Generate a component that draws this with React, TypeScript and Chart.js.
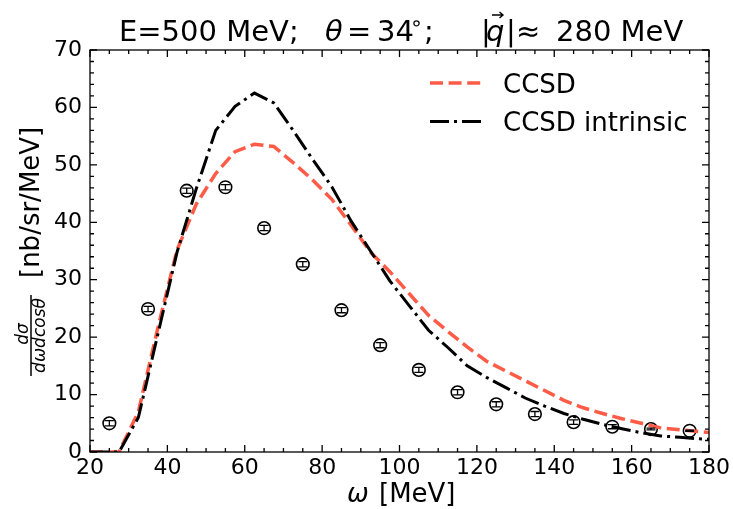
import React, { useEffect, useRef } from "react";
import { Chart, registerables } from "chart.js";

Chart.register(...registerables);

// ---- data ----
const dataOmega = [25, 35, 45, 55, 65, 75, 85, 95, 105, 115, 125, 135, 145, 155, 165, 175];
const dataValues = [5.0, 24.9, 45.5, 46.1, 39.0, 32.7, 24.7, 18.6, 14.3, 10.4, 8.3, 6.6, 5.2, 4.4, 4.0, 3.7];
const dataErrors = [0.45, 0.45, 0.45, 0.45, 0.45, 0.45, 0.45, 0.45, 0.45, 0.45, 0.45, 0.45, 0.4, 0.35, 0.15, 0.1];

const curveOmega = [
  20, 22.5, 27.5, 32.5, 37.5, 42.5, 47.5, 52.5, 57.5, 62.5, 67.5, 72.5, 77.5, 82.5, 87.5, 92.5, 97.5,
  102.5, 107.5, 112.5, 117.5, 122.5, 127.5, 132.5, 137.5, 142.5, 147.5, 152.5, 157.5, 162.5, 167.5,
  172.5, 177.5, 180,
];
const ccsdValues = [
  0, 0, 0, 7.0, 21.5, 35.2, 43.2, 48.5, 52.3, 53.6, 53.2, 50.4, 47.4, 44.0, 39.5, 34.8, 31.4,
  27.6, 23.8, 21.0, 18.3, 15.8, 14.1, 12.4, 10.7, 9.0, 7.7, 6.7, 5.8, 5.0, 4.2, 3.85, 3.55, 3.4,
];
const intrinsicValues = [
  0, 0, 0, 6.0, 20.4, 34.8, 45.9, 56.0, 60.2, 62.5, 60.8, 56.0, 51.0, 46.2, 40.2, 35.0, 29.8,
  25.5, 21.2, 18.2, 15.0, 13.0, 11.2, 9.4, 8.0, 6.7, 5.7, 4.8, 4.05, 3.35, 2.8, 2.55, 2.3, 2.2,
];

const xTicks = [20, 40, 60, 80, 100, 120, 140, 160, 180];
const yTicks = [0, 10, 20, 30, 40, 50, 60, 70];
const xMinorStep = 5;
const yMinorStep = 2;

const seriesLabels = ["CCSD", "CCSD intrinsic"];
const FONT = '"DejaVu Sans"';
const RED = "#FF5C48";
const TICK_SIZE = 22;

const f = (size: number, italic = false) => `${italic ? "italic " : ""}${size}px ${FONT}`;

const decor = {
  id: "decor",
  afterDatasetsDraw(chart: any) {
    const { ctx, scales } = chart;
    const x = scales.x;
    const y = scales.y;
    ctx.save();
    ctx.strokeStyle = "#000";
    ctx.lineWidth = 1.3;
    dataOmega.forEach((w, i) => {
      const px = x.getPixelForValue(w);
      const t = y.getPixelForValue(dataValues[i] + dataErrors[i]);
      const b = y.getPixelForValue(dataValues[i] - dataErrors[i]);
      ctx.beginPath();
      ctx.moveTo(px, t);
      ctx.lineTo(px, b);
      ctx.moveTo(px - 4.5, t);
      ctx.lineTo(px + 4.5, t);
      ctx.moveTo(px - 4.5, b);
      ctx.lineTo(px + 4.5, b);
      ctx.stroke();
    });
    ctx.restore();
  },
  afterDraw(chart: any) {
    const { ctx, chartArea, scales } = chart;
    const x = scales.x;
    const y = scales.y;
    const { left, right, top, bottom } = chartArea;
    ctx.save();
    // frame
    ctx.strokeStyle = "#000";
    ctx.lineWidth = 1.3;
    ctx.strokeRect(left, top, right - left, bottom - top);
    // ticks (inward, all sides)
    ctx.beginPath();
    const x0 = xTicks[0];
    const x1 = xTicks[xTicks.length - 1];
    for (let v = x0; v <= x1 + 1e-9; v += xMinorStep) {
      const px = x.getPixelForValue(v);
      const major = xTicks.includes(v);
      const len = major ? 7 : 4;
      ctx.moveTo(px, bottom);
      ctx.lineTo(px, bottom - len);
      ctx.moveTo(px, top);
      ctx.lineTo(px, top + len);
    }
    const y0 = yTicks[0];
    const y1 = yTicks[yTicks.length - 1];
    for (let v = y0; v <= y1 + 1e-9; v += yMinorStep) {
      const py = y.getPixelForValue(v);
      const major = yTicks.includes(v);
      const len = major ? 7 : 4;
      ctx.moveTo(left, py);
      ctx.lineTo(left + len, py);
      ctx.moveTo(right, py);
      ctx.lineTo(right - len, py);
    }
    ctx.stroke();

    ctx.fillStyle = "#000";
    ctx.textBaseline = "alphabetic";
    ctx.textAlign = "left";

    // title
    const tb = 41;
    const ts = 29;
    const seg = (t: string, px: number, it = false, size = ts, by = tb) => {
      ctx.font = f(size, it);
      ctx.fillText(t, px, by);
    };
    seg("E=500 MeV;", 119);
    seg("θ", 325, true);
    seg("=", 347);
    seg("34", 377);
    seg("∘", 410, false, 21, 30);
    seg(";", 424);
    seg("|", 481);
    seg("q", 486, true);
    seg("|", 506);
    seg("≈", 516);
    seg("280 MeV", 556);
    // vector arrow over q
    ctx.lineWidth = 1.4;
    ctx.beginPath();
    ctx.moveTo(492, 15);
    ctx.lineTo(503, 15);
    ctx.moveTo(499.5, 12);
    ctx.lineTo(503, 15);
    ctx.lineTo(499.5, 18);
    ctx.stroke();

    // legend
    const legendRows = [
      { label: seriesLabels[0], color: RED, dash: [13, 5.6], lw: 3.5, cy: 83 },
      { label: seriesLabels[1], color: "#000", dash: [19, 5, 3, 5], lw: 3, cy: 121.5 },
    ];
    legendRows.forEach((r) => {
      ctx.save();
      ctx.strokeStyle = r.color;
      ctx.lineWidth = r.lw;
      ctx.setLineDash(r.dash);
      ctx.lineCap = "butt";
      ctx.beginPath();
      ctx.moveTo(430, r.cy);
      ctx.lineTo(482, r.cy);
      ctx.stroke();
      ctx.restore();
      ctx.font = f(26);
      ctx.fillStyle = "#000";
      ctx.fillText(r.label, 503, r.cy + 9.8);
    });

    // x axis title
    ctx.font = f(26, true);
    ctx.fillText("ω", 347, 502);
    ctx.font = f(26);
    ctx.fillText("[MeV]", 379, 502);

    // y axis title (rotated)
    ctx.save();
    ctx.translate(38.5, 278);
    ctx.rotate(-Math.PI / 2);
    ctx.font = f(26);
    ctx.fillText("[nb/sr/MeV]", 0, 0);
    ctx.restore();

    ctx.save();
    ctx.translate(31, 376);
    ctx.rotate(-Math.PI / 2);
    ctx.lineWidth = 1.5;
    ctx.beginPath();
    ctx.moveTo(0, 0);
    ctx.lineTo(81, 0);
    ctx.stroke();
    ctx.textAlign = "center";
    ctx.font = f(17, true);
    ctx.fillText("dσ", 42, -3);
    ctx.fillText("dωdcosθ", 40.5, 14);
    ctx.restore();

    ctx.restore();
  },
};

export default function App() {
  const ref = useRef<HTMLCanvasElement>(null);
  useEffect(() => {
    document.body.style.margin = "0";
    Chart.defaults.font.family = FONT;
    const canvas = ref.current!;
    const chart = new Chart(canvas, {
      type: "scatter",
      data: {
        datasets: [
          {
            label: seriesLabels[0],
            data: curveOmega.map((w, i) => ({ x: w, y: ccsdValues[i] })),
            showLine: true,
            borderColor: RED,
            backgroundColor: RED,
            borderWidth: 3.5,
            borderDash: [13, 5.6],
            pointRadius: 0,
            tension: 0,
            order: 2,
          },
          {
            label: seriesLabels[1],
            data: curveOmega.map((w, i) => ({ x: w, y: intrinsicValues[i] })),
            showLine: true,
            borderColor: "#000",
            backgroundColor: "#000",
            borderWidth: 3,
            borderDash: [19, 5, 3, 5],
            pointRadius: 0,
            tension: 0,
            order: 1,
          },
          {
            label: "data",
            data: dataOmega.map((w, i) => ({ x: w, y: dataValues[i] })),
            showLine: false,
            pointStyle: "circle",
            pointRadius: 6.3,
            pointBorderWidth: 1.6,
            borderColor: "#000",
            pointBackgroundColor: "rgba(0,0,0,0)",
            backgroundColor: "rgba(0,0,0,0)",
            order: 3,
          },
        ],
      },
      options: {
        animation: false,
        responsive: false,
        devicePixelRatio: 1,
        layout: { padding: { top: 50, right: 23, left: 0, bottom: 0 } },
        plugins: {
          legend: { display: false },
          title: { display: false },
          tooltip: { enabled: false },
        },
        scales: {
          x: {
            type: "linear",
            min: xTicks[0],
            max: xTicks[xTicks.length - 1],
            afterBuildTicks: (s: any) => {
              s.ticks = xTicks.map((v) => ({ value: v }));
            },
            afterFit: (s: any) => {
              s.height = 57;
            },
            grid: { display: false, drawTicks: false, tickLength: 0 },
            border: { display: false },
            ticks: {
              padding: 3,
              color: "#000",
              font: { family: FONT, size: TICK_SIZE },
              maxRotation: 0,
              autoSkip: false,
            },
          },
          y: {
            type: "linear",
            min: yTicks[0],
            max: yTicks[yTicks.length - 1],
            afterBuildTicks: (s: any) => {
              s.ticks = yTicks.map((v) => ({ value: v }));
            },
            afterFit: (s: any) => {
              s.width = 90;
            },
            grid: { display: false, drawTicks: false, tickLength: 0 },
            border: { display: false },
            ticks: {
              padding: 8,
              color: "#000",
              font: { family: FONT, size: TICK_SIZE },
              autoSkip: false,
            },
          },
        },
      },
      plugins: [decor],
    } as any);
    return () => chart.destroy();
  }, []);
  return (
    <div style={{ width: 733, height: 509, background: "#fff" }}>
      <canvas ref={ref} width={733} height={509} style={{ display: "block" }} />
    </div>
  );
}
